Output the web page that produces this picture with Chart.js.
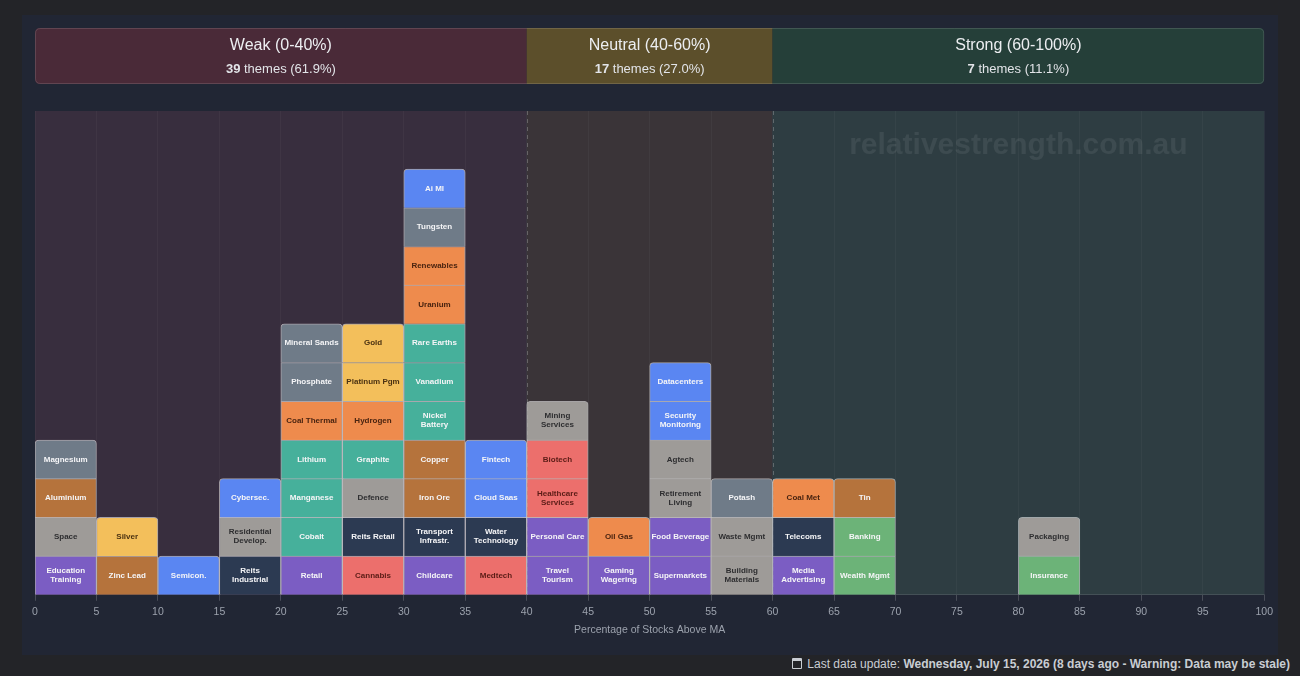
<!DOCTYPE html>
<html>
<head>
<meta charset="utf-8">
<script src="https://cdn.jsdelivr.net/npm/chart.js@4.4.0/dist/chart.umd.min.js"></script>
<style>
  html, body { margin: 0; padding: 0; background: #232428; width: 1300px; height: 676px; overflow: hidden; font-family: "Liberation Sans", Arial, sans-serif; }
  #card { position: absolute; left: 22px; top: 15px; width: 1256px; height: 640px; background: #212634; }
  #footer { position: absolute; right: 10px; top: 657px; color: #c9cdd3; font-size: 12px; white-space: nowrap; }
  #footer b { font-weight: bold; }
  .cal { display: inline-block; width: 8px; height: 7px; border: 1px solid #c9cdd3; border-top-width: 3px; border-radius: 1px; margin-right: 5px; vertical-align: -1px; }
</style>
</head>
<body>
<div id="card"><canvas id="dist"></canvas></div>
<div id="footer"><span class="cal"></span>Last data update: <b>Wednesday, July 15, 2026 (8 days ago - Warning: Data may be stale)</b></div>
<script>
// histogram bins (lower edge, width 5) and the themes stacked in each, bottom to top
const binStart = [0, 5, 10, 15, 20, 25, 30, 35, 40, 45, 50, 55, 60, 65, 80];
const binWidth = 5;
const binThemes = [
  ['Education Training', 'Space', 'Aluminium', 'Magnesium'],
  ['Zinc Lead', 'Silver'],
  ['Semicon.'],
  ['Reits Industrial', 'Residential Develop.', 'Cybersec.'],
  ['Retail', 'Cobalt', 'Manganese', 'Lithium', 'Coal Thermal', 'Phosphate', 'Mineral Sands'],
  ['Cannabis', 'Reits Retail', 'Defence', 'Graphite', 'Hydrogen', 'Platinum Pgm', 'Gold'],
  ['Childcare', 'Transport Infrastr.', 'Iron Ore', 'Copper', 'Nickel Battery', 'Vanadium', 'Rare Earths', 'Uranium', 'Renewables', 'Tungsten', 'Ai Ml'],
  ['Medtech', 'Water Technology', 'Cloud Saas', 'Fintech'],
  ['Travel Tourism', 'Personal Care', 'Healthcare Services', 'Biotech', 'Mining Services'],
  ['Gaming Wagering', 'Oil Gas'],
  ['Supermarkets', 'Food Beverage', 'Retirement Living', 'Agtech', 'Security Monitoring', 'Datacenters'],
  ['Building Materials', 'Waste Mgmt', 'Potash'],
  ['Media Advertising', 'Telecoms', 'Coal Met'],
  ['Wealth Mgmt', 'Banking', 'Tin'],
  ['Insurance', 'Packaging']
];
// sector group of each theme (same shape as binThemes)
const binGroups = [
  ['consumer', 'other', 'metals', 'minerals'],
  ['metals', 'precious'],
  ['tech'],
  ['property', 'other', 'tech'],
  ['consumer', 'battery', 'battery', 'battery', 'energy', 'minerals', 'minerals'],
  ['health', 'property', 'other', 'battery', 'energy', 'precious', 'precious'],
  ['consumer', 'property', 'metals', 'metals', 'battery', 'battery', 'battery', 'energy', 'energy', 'minerals', 'tech'],
  ['health', 'property', 'tech', 'tech'],
  ['consumer', 'consumer', 'health', 'health', 'other'],
  ['consumer', 'energy'],
  ['consumer', 'consumer', 'other', 'other', 'tech', 'tech'],
  ['other', 'other', 'minerals'],
  ['consumer', 'property', 'energy'],
  ['finance', 'finance', 'metals'],
  ['finance', 'other']
];
// strength zones shown in the banner and as background bands
const zoneNames = ['Weak (0-40%)', 'Neutral (40-60%)', 'Strong (60-100%)'];
const zoneFrom = [0, 40, 60];
const zoneTo = [40, 60, 100];
const zoneCounts = [39, 17, 7];
const zonePcts = ['61.9%', '27.0%', '11.1%'];

const groupFill = {
  consumer: '#7b5dc3', other: '#9e9b98', metals: '#b5733c', minerals: '#6f7b88',
  precious: '#f3bf5b', tech: '#5a86f2', property: '#2c3a52', battery: '#46b09b',
  energy: '#ee8b4d', health: '#ec6f6c', finance: '#6cb378'
};
const groupText = {
  other: '#2e2e30', precious: '#4b3212', energy: '#4a2410', health: '#5a1c16'
};
const bannerFill = ['#4a2a38', '#5c4f2b', '#253f39'];
const bandFill = ['#382e3e', '#3a3438', '#2e3d42'];

const datasets = [];
binThemes.forEach((names, b) => {
  names.forEach((name, i) => {
    const g = binGroups[b][i];
    datasets.push({
      label: name,
      group: g,
      data: [{ x: binStart[b] + binWidth / 2, y: 1 }],
      backgroundColor: groupFill[g],
      borderColor: 'rgba(255,255,255,0.55)',
      borderWidth: 1,
      borderRadius: i === names.length - 1 ? { topLeft: 4, topRight: 4, bottomLeft: 0, bottomRight: 0 } : 0
    });
  });
});

function roundRect(ctx, x, y, w, h, r) {
  ctx.beginPath();
  ctx.moveTo(x + r, y);
  ctx.lineTo(x + w - r, y);
  ctx.quadraticCurveTo(x + w, y, x + w, y + r);
  ctx.lineTo(x + w, y + h - r);
  ctx.quadraticCurveTo(x + w, y + h, x + w - r, y + h);
  ctx.lineTo(x + r, y + h);
  ctx.quadraticCurveTo(x, y + h, x, y + h - r);
  ctx.lineTo(x, y + r);
  ctx.quadraticCurveTo(x, y, x + r, y);
  ctx.closePath();
}

const decor = {
  id: 'decor',
  beforeDraw(chart) {
    const { ctx, chartArea: a, scales: { x } } = chart;
    ctx.save();
    // background bands
    zoneNames.forEach((z, i) => {
      const l = x.getPixelForValue(zoneFrom[i]), r = x.getPixelForValue(zoneTo[i]);
      ctx.fillStyle = bandFill[i];
      ctx.fillRect(l, a.top, r - l, a.bottom - a.top);
    });
    // banner
    const bTop = a.top - 83, bH = 56;
    const bl = x.getPixelForValue(0), br = x.getPixelForValue(100);
    ctx.save();
    roundRect(ctx, bl, bTop, br - bl, bH, 5);
    ctx.clip();
    zoneNames.forEach((z, i) => {
      const l = x.getPixelForValue(zoneFrom[i]), r = x.getPixelForValue(zoneTo[i]);
      ctx.fillStyle = bannerFill[i];
      ctx.fillRect(l, bTop, r - l, bH);
    });
    ctx.restore();
    roundRect(ctx, bl + 0.5, bTop + 0.5, br - bl - 1, bH - 1, 5);
    ctx.strokeStyle = 'rgba(255,255,255,0.13)';
    ctx.lineWidth = 1;
    ctx.stroke();
    ctx.textBaseline = 'middle';
    zoneNames.forEach((z, i) => {
      const cx = (x.getPixelForValue(zoneFrom[i]) + x.getPixelForValue(zoneTo[i])) / 2;
      ctx.fillStyle = '#eceef1';
      ctx.textAlign = 'center';
      ctx.font = '16px "Liberation Sans", Arial, sans-serif';
      ctx.fillText(z, cx, bTop + 18);
      const bold = String(zoneCounts[i]);
      const rest = ' themes (' + zonePcts[i] + ')';
      ctx.font = 'bold 13px "Liberation Sans", Arial, sans-serif';
      const w1 = ctx.measureText(bold).width;
      ctx.font = '13px "Liberation Sans", Arial, sans-serif';
      const w2 = ctx.measureText(rest).width;
      const sx = cx - (w1 + w2) / 2;
      ctx.textAlign = 'left';
      ctx.fillStyle = '#e2e4e8';
      ctx.font = 'bold 13px "Liberation Sans", Arial, sans-serif';
      ctx.fillText(bold, sx, bTop + 41);
      ctx.font = '13px "Liberation Sans", Arial, sans-serif';
      ctx.fillText(rest, sx + w1, bTop + 41);
    });
    ctx.restore();
  },
  beforeDatasetsDraw(chart) {
    const { ctx, chartArea: a, scales: { x } } = chart;
    ctx.save();
    // watermark
    ctx.fillStyle = 'rgba(255,255,255,0.075)';
    ctx.font = 'bold 30px "Liberation Sans", Arial, sans-serif';
    ctx.textAlign = 'center';
    ctx.textBaseline = 'middle';
    ctx.fillText('relativestrength.com.au', x.getPixelForValue(80), a.top + 35);
    // zone boundaries
    ctx.strokeStyle = 'rgba(190,190,190,0.35)';
    ctx.setLineDash([4, 4]);
    ctx.lineWidth = 1;
    [40, 60].forEach(v => {
      const px = Math.round(x.getPixelForValue(v)) + 0.5;
      ctx.beginPath();
      ctx.moveTo(px, a.top);
      ctx.lineTo(px, a.bottom);
      ctx.stroke();
    });
    ctx.restore();
  },
  afterDatasetsDraw(chart) {
    const { ctx } = chart;
    ctx.save();
    ctx.font = 'bold 8px "Liberation Sans", Arial, sans-serif';
    ctx.textAlign = 'center';
    ctx.textBaseline = 'middle';
    chart.data.datasets.forEach((ds, i) => {
      const el = chart.getDatasetMeta(i).data[0];
      if (!el) return;
      const cy = (el.y + el.base) / 2;
      ctx.fillStyle = groupText[ds.group] || '#f5f5f7';
      const name = ds.label;
      const sp = name.indexOf(' ');
      if (name.length > 13 && sp > 0) {
        ctx.fillText(name.slice(0, sp), el.x, cy - 4.5);
        ctx.fillText(name.slice(sp + 1), el.x, cy + 4.5);
      } else {
        ctx.fillText(name, el.x, cy);
      }
    });
    ctx.restore();
  }
};

Chart.defaults.font.family = '"Liberation Sans", Arial, sans-serif';
new Chart(document.getElementById('dist'), {
  type: 'bar',
  data: { datasets },
  plugins: [decor],
  options: {
    responsive: true,
    maintainAspectRatio: false,
    animation: false,
    layout: { padding: { left: 13, right: 13, top: 96, bottom: 15 } },
    datasets: { bar: { barPercentage: 1, categoryPercentage: 1, borderSkipped: 'start' } },
    scales: {
      x: {
        type: 'linear',
        stacked: true,
        min: 0,
        max: 100,
        offset: false,
        grid: {
          offset: false,
          color: 'rgba(255,255,255,0.035)',
          tickColor: 'rgba(255,255,255,0.18)',
          tickLength: 6
        },
        border: { color: 'rgba(255,255,255,0.12)' },
        ticks: { stepSize: 5, color: '#9ca2ad', padding: 5, font: { size: 10.5 } },
        title: {
          display: true,
          text: 'Percentage of Stocks Above MA',
          color: '#9ca2ad',
          font: { size: 10.5 },
          padding: { top: 0, bottom: 4 }
        }
      },
      y: { stacked: true, display: false, min: 0, max: 12.5 }
    },
    plugins: { legend: { display: false }, tooltip: { enabled: false } }
  }
});
</script>
</body>
</html>
